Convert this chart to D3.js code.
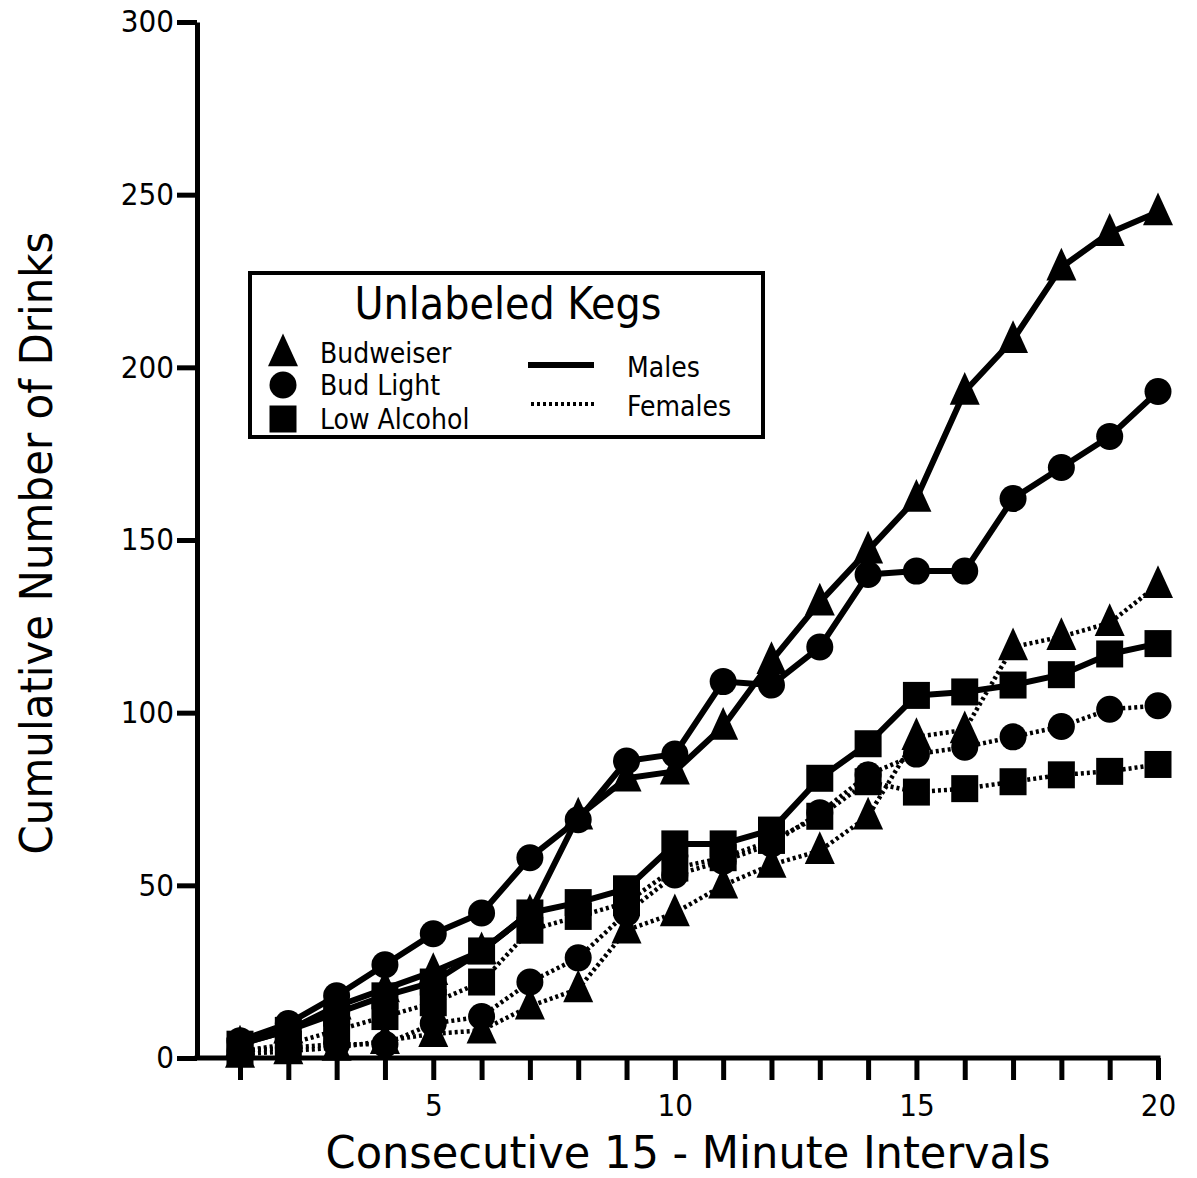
<!DOCTYPE html>
<html><head><meta charset="utf-8">
<script src="https://cdn.jsdelivr.net/npm/d3@7"></script>
<style>
html,body{margin:0;padding:0;background:#fff;}
svg{display:block;}
text{font-family:"DejaVu Sans Condensed","DejaVu Sans",sans-serif;fill:#000;}
</style>
</head><body>
<svg id="chart" width="1197" height="1178"></svg>
<script>
const intervals = d3.range(1, 21);
const maleBudweiser  = [4,8,15,20,25,31,42,70,81,83,96,115,132,147,162,193,208,229,239,245];
const maleBudLight   = [5,10,18,27,36,42,58,69,86,88,109,108,119,140,141,141,162,171,180,193];
const maleLowAlcohol = [4,8,13,18,22,31,42,45,49,62,62,66,81,91,105,106,108,111,117,120];
const femaleBudweiser  = [1,2,3,5,7,8,15,20,37,42,50,56,60,70,93,95,119,122,126,137];
const femaleBudLight   = [2,3,4,4,10,12,22,29,42,53,57,62,71,82,88,90,93,96,101,102];
const femaleLowAlcohol = [2,4,8,12,16,22,37,41,45,55,58,63,70,80,77,78,80,82,83,85];
const yTicks = [0,50,100,150,200,250,300];
const xLabelTicks = [5,10,15,20];
const legendTitle = "Unlabeled Kegs";
const kegNames = ["Budweiser","Bud Light","Low Alcohol"];
const sexNames = ["Males","Females"];

const series = [
  {values: femaleBudweiser, shape: "triangle", sex: "Females"},
  {values: femaleBudLight, shape: "circle", sex: "Females"},
  {values: femaleLowAlcohol, shape: "square", sex: "Females"},
  {values: maleLowAlcohol, shape: "square", sex: "Males"},
  {values: maleBudLight, shape: "circle", sex: "Males"},
  {values: maleBudweiser, shape: "triangle", sex: "Males"}
];

const svg = d3.select("#chart");
const x = d3.scaleLinear().domain([1,20]).range([240,1158]);
const y = d3.scaleLinear().domain([0,300]).range([1058,22]);
const axisX = 197;
const FONT = '"DejaVu Sans Condensed","DejaVu Sans",sans-serif';

const triType = {draw(ctx, size){ const w = Math.sqrt(size)*1.0, h = Math.sqrt(size)*1.05;
  ctx.moveTo(0,-h*0.62); ctx.lineTo(w/2,h*0.42); ctx.lineTo(-w/2,h*0.42); ctx.closePath(); }};
function symPath(shape){
  if(shape==="triangle") return d3.symbol(triType, 900)();
  if(shape==="circle") return d3.symbol(d3.symbolCircle, Math.PI*13.5*13.5)();
  return d3.symbol(d3.symbolSquare, 27*27)();
}

// Y axis
const gy = svg.append("g").attr("transform",`translate(${axisX},0)`)
  .call(d3.axisLeft(y).tickValues(yTicks).tickSize(20).tickSizeOuter(0).tickPadding(3));
gy.select(".domain").attr("stroke","#000").attr("stroke-width",5);
gy.selectAll(".tick line").attr("stroke","#000").attr("stroke-width",5);
gy.selectAll(".tick text").attr("font-size",31).attr("font-family",FONT).attr("fill","#000");

// X axis
const gx = svg.append("g").attr("transform",`translate(0,${y(0)})`)
  .call(d3.axisBottom(x).tickValues(intervals).tickSize(22).tickSizeOuter(0).tickPadding(14)
    .tickFormat(d => xLabelTicks.includes(d) ? d : ""));
gx.select(".domain").remove();
gx.selectAll(".tick line").attr("stroke","#000").attr("stroke-width",5);
gx.selectAll(".tick text").attr("font-size",31).attr("font-family",FONT).attr("fill","#000");
svg.append("line").attr("x1",axisX-2.5).attr("x2",x(20)+2.5).attr("y1",y(0)).attr("y2",y(0))
  .attr("stroke","#000").attr("stroke-width",5);

// axis titles
svg.append("text").attr("x",688).attr("y",1168).attr("text-anchor","middle")
  .attr("font-size",44).attr("textLength",725).attr("lengthAdjust","spacingAndGlyphs")
  .text("Consecutive 15 - Minute Intervals");
svg.append("text").attr("transform","translate(52,543) rotate(-90)").attr("text-anchor","middle")
  .attr("font-size",44).attr("textLength",623).attr("lengthAdjust","spacingAndGlyphs")
  .text("Cumulative Number of Drinks");

// series
const line = d3.line().x((d,i)=>x(intervals[i])).y(d=>y(d));
series.forEach(s=>{
  const g = svg.append("g");
  g.append("path").attr("d", line(s.values)).attr("fill","none").attr("stroke","#000")
    .attr("stroke-width", s.sex==="Males" ? 6 : 4.5)
    .attr("stroke-dasharray", s.sex==="Males" ? null : "3,3")
    .attr("stroke-linejoin","round");
  g.selectAll("path.m").data(s.values).enter().append("path").attr("class","m")
    .attr("d", symPath(s.shape))
    .attr("transform",(d,i)=>`translate(${x(intervals[i])},${y(d)})`)
    .attr("fill","#000");
});

// legend
const lg = svg.append("g");
lg.append("rect").attr("x",250).attr("y",273).attr("width",513).attr("height",164)
  .attr("fill","#fff").attr("stroke","#000").attr("stroke-width",4);
lg.append("text").attr("x",508).attr("y",319).attr("text-anchor","middle").attr("font-size",44)
  .attr("textLength",307).attr("lengthAdjust","spacingAndGlyphs").text(legendTitle);
const shapes = ["triangle","circle","square"];
const rowY = [353,385,419];
kegNames.forEach((k,i)=>{
  lg.append("path").attr("d",symPath(shapes[i])).attr("transform",`translate(283,${rowY[i]})`).attr("fill","#000");
  lg.append("text").attr("x",320).attr("y",rowY[i]+10).attr("font-size",28).text(k);
});
lg.append("line").attr("x1",528).attr("x2",594).attr("y1",365).attr("y2",365).attr("stroke","#000").attr("stroke-width",6);
lg.append("line").attr("x1",531).attr("x2",594).attr("y1",404).attr("y2",404).attr("stroke","#000").attr("stroke-width",4).attr("stroke-dasharray","3,3");
lg.append("text").attr("x",627).attr("y",377).attr("font-size",28).text(sexNames[0]);
lg.append("text").attr("x",627).attr("y",416).attr("font-size",28).text(sexNames[1]);
</script>
</body></html>
